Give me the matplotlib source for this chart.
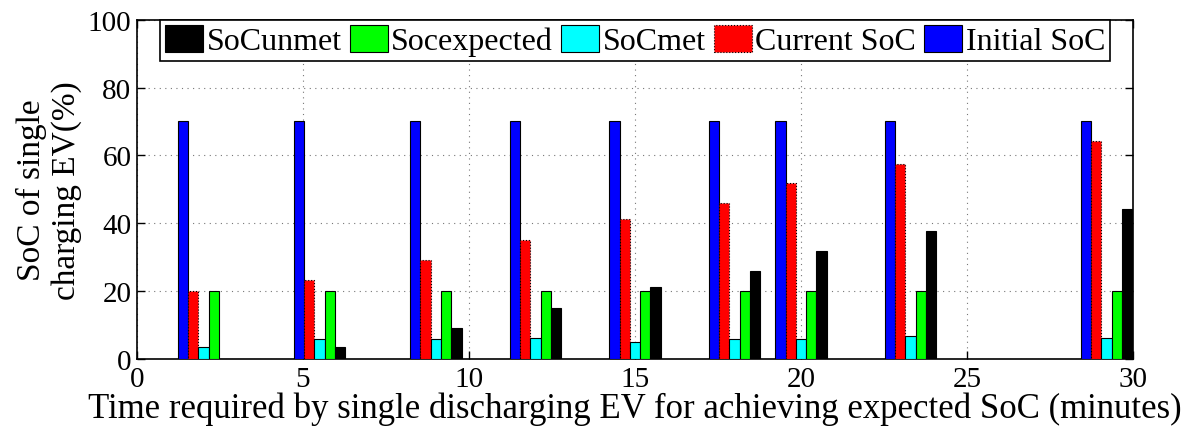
import numpy as np
import matplotlib.pyplot as plt

# discharge time (minutes) for each group of bars
times = [2, 5.5, 9, 12, 15, 18, 20, 23.3, 29.2]

initial_soc = [70, 70, 70, 70, 70, 70, 70, 70, 70]
current_soc = [20, 23.2, 29.2, 35.0, 41.2, 46.0, 51.9, 57.5, 64.2]
soc_met = [3.4, 5.9, 5.9, 6.2, 4.9, 5.9, 5.8, 6.6, 6.0]
soc_expected = [20, 20, 20, 20, 20, 20, 20, 20, 20]
soc_unmet = [0, 3.5, 9.2, 15.1, 21.3, 26.0, 31.8, 37.7, 44.2]

plt.rcParams["font.family"] = ["Liberation Serif", "DejaVu Serif"]
plt.rcParams["font.size"] = 21

fig = plt.figure(figsize=(11.92, 4.27), dpi=100)
ax = fig.add_axes([0.1149, 0.1574, 0.8356, 0.7939])

x = np.array(times)
w = 0.31
series = [
    (initial_soc, "#0000ff", "-", "Initial SoC"),
    (current_soc, "#ff0000", ":", "Current SoC"),
    (soc_met, "#00ffff", "-", "SoCmet"),
    (soc_expected, "#00ff00", "-", "Socexpected"),
    (soc_unmet, "#000000", "-", "SoCunmet"),
]
handles = {}
for i, (vals, col, ls, name) in enumerate(series):
    bars = ax.bar(x + (i - 2) * w, vals, width=w, color=col, edgecolor="black",
                  linewidth=0.8, linestyle=ls, label=name, zorder=3)
    handles[name] = bars

ax.set_xlim(0, 30)
ax.set_ylim(0, 100)
ax.set_xticks(range(0, 31, 5))
ax.set_yticks(range(0, 101, 20))
ax.grid(True, linestyle=(0, (1, 4)), color="#777777", linewidth=0.8, zorder=0)
ax.tick_params(direction="in", top=True, right=True, length=6, width=1)
ax.tick_params(axis="x", pad=5)
ax.tick_params(axis="y", pad=4)
for s in ax.spines.values():
    s.set_linewidth(1.2)

ax.set_xlabel("Time required by single discharging EV for achieving expected SoC (minutes)",
              fontsize=25, labelpad=-0.5)
ax.set_ylabel("SoC of single\ncharging EV(%)", fontsize=24, labelpad=4,
              linespacing=1.2)

order = ["SoCunmet", "Socexpected", "SoCmet", "Current SoC", "Initial SoC"]
leg = ax.legend([handles[n] for n in order], order, ncol=5, loc="upper center",
                bbox_to_anchor=(0.5, 1.0), fontsize=23, handlelength=1.2,
                handleheight=0.95, handletextpad=0.1, columnspacing=0.25,
                borderpad=0.15, borderaxespad=0.0, fancybox=False,
                edgecolor="black", framealpha=1.0)
leg.get_frame().set_linewidth(1.2)

fig.savefig("out.png", dpi=100)
